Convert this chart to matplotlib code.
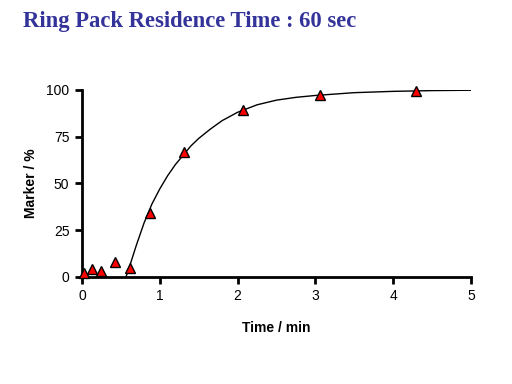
import matplotlib
matplotlib.use('Agg')
import matplotlib.pyplot as plt

# measured marker concentration
times = [0.03, 0.13, 0.24, 0.42, 0.62, 0.87, 1.31, 2.07, 3.06, 4.29]
marker = [2, 4, 3, 8, 5, 34, 67, 89, 97, 99.5]

# fitted curve
fit_t = [0.55, 0.6, 0.7, 0.8, 0.9, 1.0, 1.1, 1.2, 1.3, 1.4, 1.5, 1.65, 1.8, 2.0,
         2.25, 2.5, 2.75, 3.0, 3.5, 4.0, 4.5, 5.0]
fit_y = [-2, 4, 17, 29, 39, 47, 54, 60, 65, 70, 74, 79, 83.5, 88,
         92, 94.5, 96, 97, 98.5, 99.2, 99.6, 99.8]

plt.rcParams['font.family'] = ['Liberation Sans', 'DejaVu Sans']

fig = plt.figure(figsize=(5.12, 3.84), dpi=100)
ax = fig.add_axes([0.160, 0.279, 0.760, 0.487])

ax.plot(fit_t, fit_y, color='black', lw=1, zorder=2)
ax.plot(times, marker, linestyle='none', marker='^', markersize=7,
        markerfacecolor='#ff0000', markeredgecolor='black', markeredgewidth=1,
        zorder=3, clip_on=False)

ax.set_xlim(0, 5)
ax.set_ylim(0, 100)
ax.set_xticks(range(0, 6))
ax.set_yticks([0, 25, 50, 75, 100])
for s in ['top', 'right']:
    ax.spines[s].set_visible(False)
for s in ['left', 'bottom']:
    ax.spines[s].set_linewidth(2)
ax.tick_params(direction='out', length=5, width=2, labelsize=10, pad=4)
ax.set_xlabel('Time / min', fontsize=10, fontweight='bold', labelpad=13)
ax.set_ylabel('Marker / %', fontsize=10, fontweight='bold', labelpad=6)

fig.text(0.045, 0.943, 'Ring Pack Residence Time : 60 sec', fontsize=16.3,
         fontweight='bold', family=['Liberation Serif', 'DejaVu Serif'],
         color='#333399', va='center', ha='left')

fig.savefig('out.png', dpi=100)
